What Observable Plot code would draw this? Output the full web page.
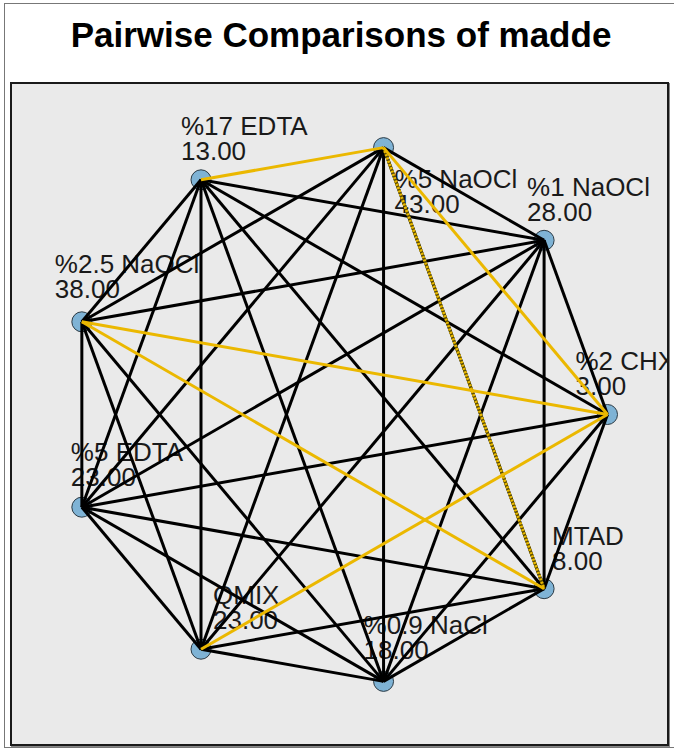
<!DOCTYPE html>
<html><head><meta charset="utf-8">
<script src="https://cdn.jsdelivr.net/npm/d3@7"></script>
<script src="https://cdn.jsdelivr.net/npm/@observablehq/plot@0.6"></script>
<style>
html,body{margin:0;padding:0;background:#fff;}
#page{position:relative;width:674px;height:752px;overflow:hidden;font-family:"Liberation Sans",Arial,sans-serif;}
#frame{position:absolute;left:4px;top:3px;width:690px;height:745px;border-left:1px solid #777;border-top:1px solid #777;border-bottom:1px solid #777;box-sizing:border-box;}
#title{position:absolute;left:4px;width:674px;top:17px;text-align:center;font-weight:bold;font-size:35px;line-height:1;color:#000;}
#panel{position:absolute;left:10px;top:82px;width:659px;height:664px;box-sizing:border-box;border:2px solid #1a1a1a;background:#eaeaea;box-shadow:1px 1px 0 #888;}
#panel svg{position:absolute;left:0;top:0;}
</style>
</head><body>
<div id="page">
  <div id="frame"></div>
  <div id="title">Pairwise Comparisons of madde</div>
  <div id="panel"></div>
</div>
<script>
// ---- data ----
const groups = ["%2 CHX", "%1 NaOCl", "%5 NaOCl", "%17 EDTA", "%2.5 NaOCl", "%5 EDTA", "QMIX", "%0.9 NaCl", "MTAD"];
const meanRanks = [3, 28, 43, 13, 38, 23, 23, 18, 8];
const significantPairs = [
  ["%17 EDTA", "%5 NaOCl"],
  ["%5 NaOCl", "%2 CHX"],
  ["%2.5 NaOCl", "%2 CHX"],
  ["%2.5 NaOCl", "MTAD"],
  ["QMIX", "%2 CHX"]
];
const overlaidPairs = [["%5 NaOCl", "MTAD"]];

// ---- layout (label placement, px offsets of first-line baseline) ----
const labelDx = [-32, -17, 11, -20, -27, -11, 12, -20, 8];
const labelDy = [-45, -44, 40, -45, -49, -46, -45, -47, -44];

const n = groups.length;
const nodes = groups.map((g, i) => {
  const a = i * 2 * Math.PI / n;
  return {name: g, value: meanRanks[i], x: Math.cos(a), y: Math.sin(a), i};
});
const key = (a, b) => [a, b].sort().join("|");
const sigSet = new Set(significantPairs.map(([a, b]) => key(a, b)));
const ovSet = new Set(overlaidPairs.map(([a, b]) => key(a, b)));
const links = [];
for (let i = 0; i < n; i++) for (let j = i + 1; j < n; j++) {
  const a = nodes[i], b = nodes[j];
  const k = key(a.name, b.name);
  links.push({a, b, sig: sigSet.has(k), ov: ovSet.has(k)});
}
const linkOpts = {x1: d => d.a.x, y1: d => d.a.y, x2: d => d.b.x, y2: d => d.b.y, strokeWidth: 3};

const fs = 26;
const labelMarks = [];
nodes.forEach((d, i) => {
  labelMarks.push(Plot.text([d], {x: "x", y: "y", text: "name", dx: labelDx[i], dy: labelDy[i] - 0.32 * fs, textAnchor: "start", fontSize: fs, fill: "#1a1a1a"}));
  labelMarks.push(Plot.text([d], {x: "x", y: "y", text: v => v.value.toFixed(2), dx: labelDx[i], dy: labelDy[i] + 25 - 0.32 * fs, textAnchor: "start", fontSize: fs, fill: "#1a1a1a"}));
});

const chart = Plot.plot({
  width: 655,
  height: 660,
  margin: 0,
  x: {domain: [-1, 1], range: [53, 595], axis: null},
  y: {domain: [-1, 1], range: [601, 59], axis: null},
  style: {background: "transparent", fontFamily: "'Liberation Sans', Arial, sans-serif"},
  marks: [
    ...labelMarks,
    Plot.dot(nodes, {x: "x", y: "y", r: 10, fill: "#7fb3d5", stroke: "#2b3a44", strokeWidth: 1}),
    Plot.link(links.filter(d => !d.sig), {...linkOpts, stroke: "#000"}),
    Plot.link(links.filter(d => d.ov), {...linkOpts, stroke: "#5e4f00"}),
    Plot.link(links.filter(d => d.ov), {...linkOpts, stroke: "#e8b800", strokeDasharray: "2,1.5"}),
    Plot.link(links.filter(d => d.sig && !d.ov), {...linkOpts, stroke: "#ebb800"})
  ]
});
document.getElementById("panel").appendChild(chart);
</script>
</body></html>
